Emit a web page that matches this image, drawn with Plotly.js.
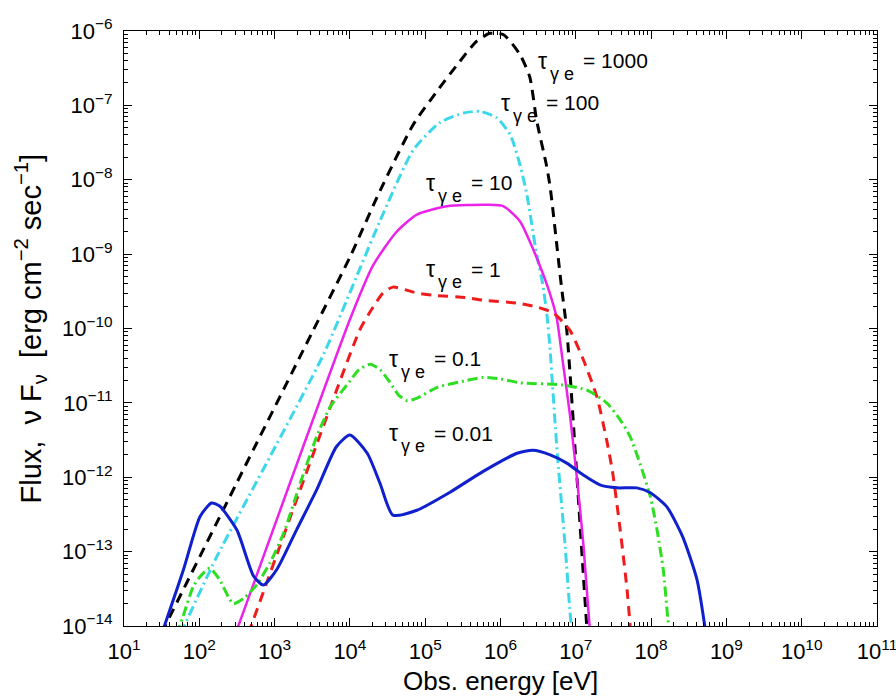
<!DOCTYPE html>
<html>
<head>
<meta charset="utf-8">
<script src="https://cdn.plot.ly/plotly-3.0.1.min.js"></script>
<style>html,body{margin:0;padding:0;background:#fff;}#chart{width:896px;height:697px;}</style>
</head>
<body>
<div id="chart"></div>
<script>
// Observed energy [eV] and flux nuFnu [erg cm^-2 s^-1] for each tau_gamma_e
var tau1000_E = [3.16e1, 3.51e1, 3.16e2, 3.16e3, 1.0e4, 2.51e4, 6.92e4, 1.41e5, 2.63e5, 4.79e5, 7.24e5, 1.10e6, 1.82e6, 2.45e6, 3.02e6, 4.07e6, 4.57e6, 6.46e6, 7.59e6, 1.02e7, 1.38e7, 1.45e7];
var tau1000_F = [8.1e-15, 1.0e-14, 8.5e-13, 8.9e-11, 9.1e-10, 7.1e-9, 5.5e-8, 1.51e-7, 3.47e-7, 7.24e-7, 9.3e-7, 8.9e-7, 4.8e-7, 2.4e-7, 6.3e-8, 1.58e-8, 7.9e-9, 3.6e-10, 9.5e-11, 1.26e-12, 1.2e-14, 6.3e-15];

var tau100_E = [5.75e1, 6.31e1, 1.70e2, 8.71e2, 4.47e3, 1.35e4, 2.51e4, 6.92e4, 1.58e5, 3.24e5, 5.37e5, 8.91e5, 1.35e6, 1.82e6, 2.24e6, 3.02e6, 3.63e6, 4.17e6, 4.57e6, 4.90e6, 5.25e6, 5.75e6, 7.24e6, 8.32e6, 8.91e6];
var tau100_F = [7.9e-15, 1.0e-14, 8.5e-14, 1.9e-12, 4.5e-11, 6.3e-10, 2.8e-9, 2.5e-8, 5.9e-8, 7.9e-8, 8.3e-8, 6.8e-8, 4.0e-8, 1.58e-8, 6.3e-9, 1.0e-9, 4.0e-10, 1.41e-10, 5.0e-11, 1.78e-11, 6.3e-12, 1.78e-12, 1.15e-13, 1.66e-14, 7.9e-15];

var tau10_E = [3.02e2, 3.16e2, 1.0e4, 2.04e4, 4.17e4, 7.76e4, 1.95e5, 6.61e5, 1.10e6, 1.82e6, 2.45e6, 3.31e6, 4.27e6, 5.56e6, 6.76e6, 8.32e6, 1.02e7, 1.26e7, 1.55e7];
var tau10_F = [7.9e-15, 8.9e-15, 1.32e-10, 7.1e-10, 2.0e-9, 3.4e-9, 4.4e-9, 4.6e-9, 4.4e-9, 2.75e-9, 1.48e-9, 7.1e-10, 3.55e-10, 1.41e-10, 3.4e-11, 7.2e-12, 1.12e-12, 1.26e-13, 7.9e-15];

var tau1_E = [4.47e2, 4.68e2, 1.35e4, 2.04e4, 2.75e4, 3.72e4, 7.76e4, 1.26e5, 3.55e5, 5.89e5, 1.66e6, 3.02e6, 5.01e6, 8.32e6, 1.26e7, 1.91e7, 2.57e7, 3.09e7, 3.89e7, 4.79e7, 5.37e7];
var tau1_F = [7.9e-15, 8.9e-15, 9.5e-11, 1.95e-10, 3.0e-10, 3.6e-10, 3.0e-10, 2.8e-10, 2.6e-10, 2.4e-10, 2.2e-10, 1.95e-10, 1.62e-10, 9.5e-11, 3.8e-11, 1.2e-11, 3.16e-12, 1.15e-12, 1.95e-13, 3.1e-14, 7.9e-15];

var tau01_E = [5.01e1, 6.31e1, 8.32e1, 1.02e2, 1.38e2, 1.86e2, 2.82e2, 3.98e2, 5.75e2, 8.71e2, 1.32e3, 2.19e3, 3.63e3, 5.50e3, 9.77e3, 1.32e4, 1.86e4, 2.51e4, 3.39e4, 4.47e4, 5.75e4, 7.94e4, 1.45e5, 3.55e5, 5.89e5, 1.0e6, 1.82e6, 6.76e6, 1.41e7, 2.57e7, 3.89e7, 5.25e7, 7.08e7, 9.77e7, 1.20e8, 1.45e8, 1.66e8, 1.78e8];
var tau01_F = [7.6e-15, 1.51e-14, 3.4e-14, 4.6e-14, 6.0e-14, 4.2e-14, 2.0e-14, 2.4e-14, 3.55e-14, 7.1e-14, 1.78e-13, 8.3e-13, 3.55e-12, 8.9e-12, 1.9e-11, 2.8e-11, 3.3e-11, 2.8e-11, 1.9e-11, 1.26e-11, 1.07e-11, 1.17e-11, 1.62e-11, 2.0e-11, 2.2e-11, 2.1e-11, 1.86e-11, 1.74e-11, 1.48e-11, 1.0e-11, 5.9e-12, 3.55e-12, 1.55e-12, 5.5e-13, 1.95e-13, 5.75e-14, 1.32e-14, 7.1e-15];

var tau001_E = [3.16e1, 6.17e1, 1.02e2, 1.45e2, 1.86e2, 3.16e2, 5.25e2, 7.08e2, 1.07e3, 1.95e3, 3.63e3, 6.61e3, 1.0e4, 1.70e4, 2.51e4, 3.72e4, 7.76e4, 2.14e5, 5.89e5, 1.66e6, 2.69e6, 4.57e6, 7.59e6, 1.26e7, 2.09e7, 3.55e7, 6.46e7, 9.77e7, 1.62e8, 2.63e8, 4.07e8, 5.25e8];
var tau001_F = [7.8e-15, 5.75e-14, 2.95e-13, 4.5e-13, 4.1e-13, 1.95e-13, 4.7e-14, 3.55e-14, 5.75e-14, 1.95e-13, 6.8e-13, 2.57e-12, 3.7e-12, 2.1e-12, 8.3e-13, 3.1e-13, 3.6e-13, 6.3e-13, 1.2e-12, 2.1e-12, 2.3e-12, 2.0e-12, 1.55e-12, 1.07e-12, 7.9e-13, 7.2e-13, 7.2e-13, 6.2e-13, 4.0e-13, 1.58e-13, 4.2e-14, 8.9e-15];

var tauValues = ['1000', '100', '10', '1', '0.1', '0.01'];

var xTickVals = [1e1, 1e2, 1e3, 1e4, 1e5, 1e6, 1e7, 1e8, 1e9, 1e10, 1e11];
var xTickText = ['10<sup>1</sup>', '10<sup>2</sup>', '10<sup>3</sup>', '10<sup>4</sup>', '10<sup>5</sup>', '10<sup>6</sup>', '10<sup>7</sup>', '10<sup>8</sup>', '10<sup>9</sup>', '10<sup>10</sup>', '10<sup>11</sup>'];
var yTickVals = [1e-14, 1e-13, 1e-12, 1e-11, 1e-10, 1e-9, 1e-8, 1e-7, 1e-6];
var yTickText = ['10<sup>\u221214</sup>', '10<sup>\u221213</sup>', '10<sup>\u221212</sup>', '10<sup>\u221211</sup>', '10<sup>\u221210</sup>', '10<sup>\u22129</sup>', '10<sup>\u22128</sup>', '10<sup>\u22127</sup>', '10<sup>\u22126</sup>'];

var xTitle = 'Obs. energy [eV]';
var yTitle = 'Flux,\u00a0 \u03bd F<sub>\u03bd</sub>\u00a0 [erg cm<sup>\u22122</sup> sec<sup>\u22121</sup>]';

var FONT = 'Liberation Sans, Arial, Helvetica, sans-serif';

function minorTicks(decades) {
  var out = [];
  decades.forEach(function (d) { for (var k = 2; k <= 9; k++) out.push(k * d); });
  return out;
}

function tr(x, y, color, dash, width) {
  return {x: x, y: y, mode: 'lines', type: 'scatter', hoverinfo: 'skip',
    line: {color: color, dash: dash, width: width, shape: 'spline', smoothing: 0.6}};
}

var data = [
  tr(tau1000_E, tau1000_F, '#000000', '10px,7px', 3),
  tr(tau100_E, tau100_F, '#3cd8ea', '10px,4px,2px,4px', 3),
  tr(tau10_E, tau10_F, '#ea22ea', 'solid', 2.5),
  tr(tau1_E, tau1_F, '#ee1c1c', '10px,7px', 3),
  tr(tau01_E, tau01_F, '#2ede22', '10px,4px,2px,4px', 3),
  tr(tau001_E, tau001_F, '#1020cc', 'solid', 3)
];

// label anchor (left edge of tau, centre of the main text line) in paper coords
var labelX = [0.547, 0.498, 0.399, 0.399, 0.349, 0.349];
var labelY = [0.950, 0.879, 0.745, 0.600, 0.449, 0.324];
var annotations = [];
tauValues.forEach(function (v, i) {
  var base = {xref: 'paper', yref: 'paper', x: labelX[i], y: labelY[i], xanchor: 'left', yanchor: 'middle', showarrow: false};
  annotations.push(Object.assign({}, base, {text: '\u03c4', font: {family: FONT, size: 23, color: '#000'}}));
  annotations.push(Object.assign({}, base, {text: '\u03b3 e', xshift: 12, yshift: -13, font: {family: FONT, size: 18, color: '#000'}}));
  annotations.push(Object.assign({}, base, {text: '= ' + v, xshift: 45, font: {family: FONT, size: 21, color: '#000'}}));
});
annotations.push({text: xTitle, xref: 'paper', yref: 'paper', x: 0.5, y: 0, yshift: -55,
  xanchor: 'center', yanchor: 'middle', showarrow: false, font: {family: FONT, size: 26, color: '#000'}});
annotations.push({text: yTitle, xref: 'paper', yref: 'paper', x: 0, y: 0.5, xshift: -94, textangle: -90,
  xanchor: 'center', yanchor: 'middle', showarrow: false, font: {family: FONT, size: 29, color: '#000'}});

function axis(tv, tt, rng) {
  return {
    type: 'log', range: rng, showgrid: false, zeroline: false, showline: true, linecolor: '#000', linewidth: 1,
    mirror: 'allticks', ticks: 'inside', ticklen: 8, tickcolor: '#000', tickwidth: 1,
    tickmode: 'array', tickvals: tv, ticktext: tt, ticklabelstandoff: 6, ticklabeloverflow: 'allow',
    tickfont: {family: FONT, size: 22, color: '#000'},
    minor: {tickmode: 'array', tickvals: minorTicks(tv), ticks: 'inside', ticklen: 4, tickcolor: '#000', tickwidth: 1, showgrid: false}
  };
}

var layout = {
  width: 896, height: 697,
  margin: {l: 124, r: 19, t: 31, b: 71},
  paper_bgcolor: '#fff', plot_bgcolor: '#fff',
  showlegend: false,
  xaxis: axis(xTickVals, xTickText, [1, 11]),
  yaxis: axis(yTickVals, yTickText, [-14, -6]),
  annotations: annotations
};

Plotly.newPlot('chart', data, layout, {staticPlot: true, displayModeBar: false});
</script>
</body>
</html>
